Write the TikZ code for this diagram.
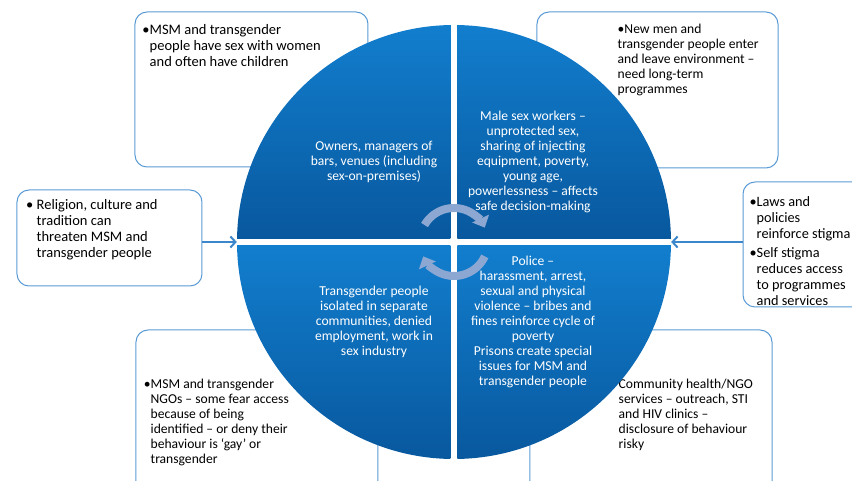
\documentclass[tikz,border=0pt]{standalone}
\usepackage{fontspec}
\setmainfont{Carlito}
\usetikzlibrary{positioning,arrows.meta}
\definecolor{qlight}{RGB}{18,126,206}
\definecolor{qdark}{RGB}{8,88,158}
\definecolor{boxblue}{RGB}{91,155,213}
\definecolor{arrowblue}{RGB}{60,135,204}
\definecolor{cycleblue}{RGB}{140,168,210}

\begin{document}
\begin{tikzpicture}[
    x=1pt, y=1pt,
    node distance=10pt,
    outerbox/.style={rectangle, draw=boxblue, line width=1pt, rounded corners=12pt, fill=white, inner sep=0pt},
    boxtext/.style={inner sep=0pt, align=left, font=\fontsize{14.5}{16}\selectfont},
    smalltext/.style={boxtext, font=\fontsize{13.6}{15}\selectfont},
    quadtext/.style={inner sep=0pt, align=center, text=white, font=\fontsize{13.6}{15}\selectfont},
    quadshade/.style={top color=qlight, bottom color=qdark},
    sidearrow/.style={draw=arrowblue, line width=2pt, -{Straight Barb[length=5pt,width=11pt]}},
    cyclearrow/.style={draw=cycleblue, line width=8pt, -{Triangle[length=10pt,width=18pt]}}
]
    \useasboundingbox (-454,-239) rectangle (398,242);
    \clip (-454,-239) rectangle (398,242);

    \node[circle, minimum size=434pt, inner sep=0pt] (hub) at (0,0) {};

    % outer boxes
    \node[outerbox, minimum width=233pt, minimum height=155pt] (tl) at (-202.5,152.5) {};
    \node[outerbox, minimum width=241pt, minimum height=156pt] (tr) at (203.5,152) {};
    \node[outerbox, minimum width=185pt, minimum height=96pt] (lb) at (-344.5,4) {};
    \node[outerbox, minimum width=142pt, minimum height=125pt] (rb) at (360,-2.5) {};
    \node[outerbox, minimum width=242pt, minimum height=164pt] (bl) at (-197,-170) {};
    \node[outerbox, minimum width=242pt, minimum height=164pt] (br) at (197,-170) {};

    \node[boxtext, below right=13pt and 15pt of tl.north west] (tltext)
        {\llap{•}MSM and transgender\\people have sex with women\\and often have children};
    \node[smalltext, below right=12pt and 81pt of tr.north west] (trtext)
        {•New men and\\transgender people enter\\and leave environment –\\need long-term\\programmes};
    \node[boxtext, below right=10pt and 20pt of lb.north west] (lbtext)
        {\llap{•\ }Religion, culture and\\tradition can\\threaten MSM and\\transgender people};
    \node[boxtext, below right=15pt and 14pt of rb.north west, font=\fontsize{14.3}{16}\selectfont] (rbtext)
        {\llap{•}Laws and\\policies\\reinforce stigma\\[3pt]\llap{•}Self stigma\\reduces access\\to programmes\\and services};
    \node[smalltext, below right=49pt and 15pt of bl.north west] (bltext)
        {\llap{•}MSM and transgender\\NGOs – some fear access\\because of being\\identified – or deny their\\behaviour is ‘gay’ or\\transgender};
    \node[smalltext, below right=49pt and 89pt of br.north west] (brtext)
        {Community health/NGO\\services – outreach, STI\\and HIV clinics –\\disclosure of behaviour\\risky};

    \draw[sidearrow] (lb.east |- hub.west) -- (hub.west);
    \draw[sidearrow] (rb.west |- hub.east) -- (hub.east);

    % quadrants
    \begin{scope}
        \clip (hub.center) circle (217);
        \foreach \sx in {-1,1} {
            \shade[quadshade] (3.5*\sx,3.5) rectangle (217*\sx,217);
            \shade[quadshade] (3.5*\sx,-3.5) rectangle (217*\sx,-217);
        }
    \end{scope}

    \node[quadtext] (qtl) at (-80,80) {Owners, managers of\\bars, venues (including\\sex-on-premises)};
    \node[quadtext] (qtr) at (79,80) {Male sex workers –\\unprotected sex,\\sharing of injecting\\equipment, poverty,\\young age,\\powerlessness – affects\\safe decision-making};
    \node[quadtext] (qbl) at (-80,-80) {Transgender people\\isolated in separate\\communities, denied\\employment, work in\\sex industry};
    \node[quadtext] (qbr) at (79,-80) {Police –\\harassment, arrest,\\sexual and physical\\violence – bribes and\\fines reinforce cycle of\\poverty\\Prisons create special\\issues for MSM and\\transgender people};

    \draw[cyclearrow] (150:34) arc[start angle=150, end angle=25, radius=34];
    \draw[cyclearrow] (-25:34) arc[start angle=-25, end angle=-155, radius=34];
\end{tikzpicture}
\end{document}
